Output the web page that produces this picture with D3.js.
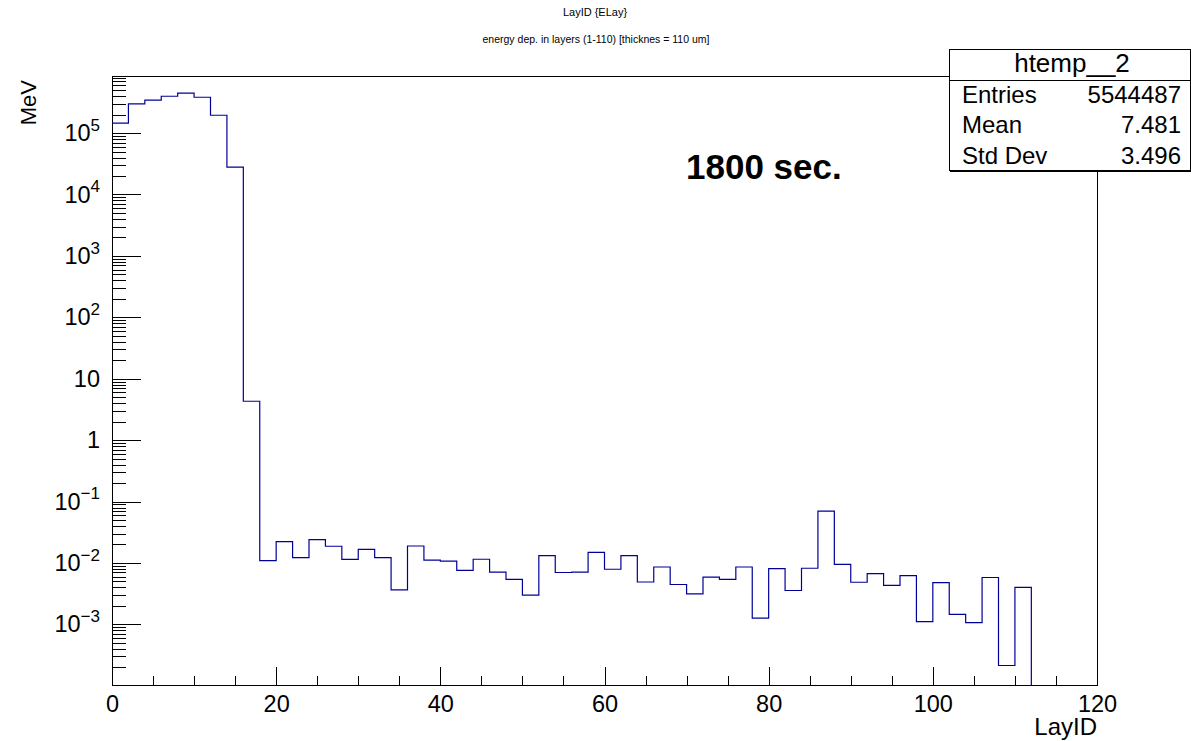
<!DOCTYPE html>
<html>
<head>
<meta charset="utf-8">
<script src="https://cdn.jsdelivr.net/npm/d3@7"></script>
<style>
  body { margin: 0; background: #fff; }
  svg { font-family: "Liberation Sans", Arial, Helvetica, sans-serif; }
  .axis path, .axis line { stroke: #000; shape-rendering: crispEdges; }
  .axis .domain { display: none; }
</style>
</head>
<body>
<div id="chart"></div>
<script>
// histogram: LayID, bin width 2, first edge at 0
var binStart = 0;
var binWidth = 2;
var binValues = [
  1.45e5, 3.0e5, 3.43e5, 3.98e5, 4.46e5, 3.83e5, 1.95e5, 2.8e4, 4.3, 0.0109,
  0.0223, 0.0122, 0.024, 0.0187, 0.0114, 0.0167, 0.0122, 0.00364, 0.0189, 0.0111,
  0.0107, 0.0076, 0.0115, 0.0071, 0.0054, 0.0030, 0.0132, 0.0070, 0.0071, 0.0149,
  0.0079, 0.0132, 0.0049, 0.0086, 0.00446, 0.00313, 0.0059, 0.0054, 0.0086, 0.00126,
  0.0081, 0.00356, 0.0082, 0.070, 0.0095, 0.00485, 0.0067, 0.0043, 0.0062, 0.00111,
  0.0048, 0.00145, 0.00107, 0.0058, 0.000214, 0.0040, 0, 0, 0, 0
];

var xTicks = [0, 20, 40, 60, 80, 100, 120];
var yTicks = [1e5, 1e4, 1e3, 1e2, 10, 1, 1e-1, 1e-2, 1e-3];
var yTickLabels = [['10', '5'], ['10', '4'], ['10', '3'], ['10', '2'], ['10', ''], ['1', ''],
  ['10', '\u22121'], ['10', '\u22122'], ['10', '\u22123']];

var statsTitle = 'htemp__2';
var statsRows = [['Entries', '5544487'], ['Mean', '7.481'], ['Std Dev', '3.496']];

var W = 1191, H = 741;
var margin = {top: 76, right: 94, bottom: 56, left: 112};
var width = W - margin.left - margin.right;
var height = H - margin.top - margin.bottom;

var x = d3.scaleLinear().domain([0, 120]).range([0, width]);
var y = d3.scaleLog().domain([1.03e-4, 8.5e5]).range([height, 0]);

var svg = d3.select('#chart').append('svg')
  .attr('width', W)
  .attr('height', H);

// titles
svg.append('text')
  .attr('x', 595).attr('y', 16)
  .attr('text-anchor', 'middle')
  .attr('font-size', 11)
  .text('LayID {ELay}');
svg.append('text')
  .attr('x', 596).attr('y', 43)
  .attr('text-anchor', 'middle')
  .attr('font-size', 10.5)
  .text('energy dep. in layers (1-110) [thicknes = 110 um]');

var g = svg.append('g')
  .attr('transform', 'translate(' + margin.left + ',' + margin.top + ')');

// frame
g.append('rect')
  .attr('x', 0).attr('y', 0)
  .attr('width', width).attr('height', height)
  .attr('fill', 'none')
  .attr('stroke', '#000')
  .attr('stroke-width', 1)
  .attr('shape-rendering', 'crispEdges');

// x axis: minor every 5, major every 20
var xMinor = d3.range(0, 121, 5).filter(function(d) { return d % 20 !== 0; });
g.append('g')
  .attr('class', 'axis')
  .attr('transform', 'translate(0,' + height + ')')
  .call(d3.axisBottom(x).tickValues(xMinor).tickSize(-9).tickFormat(''));
g.append('g')
  .attr('class', 'axis')
  .attr('transform', 'translate(0,' + height + ')')
  .call(d3.axisBottom(x).tickValues(xTicks).tickSize(-18).tickPadding(10))
  .selectAll('text')
  .attr('font-size', 23.5)
  .attr('fill', '#000');

// y axis: minor ticks 2..9 per decade
var yMinor = [];
for (var e = -4; e <= 5; e++) {
  for (var m = 2; m <= 9; m++) {
    var v = m * Math.pow(10, e);
    if (v >= y.domain()[0] && v <= y.domain()[1]) yMinor.push(v);
  }
}
g.append('g')
  .attr('class', 'axis')
  .call(d3.axisLeft(y).tickValues(yMinor).tickSize(-14).tickFormat(''));

var yAxis = g.append('g')
  .attr('class', 'axis')
  .call(d3.axisLeft(y).tickValues(yTicks).tickSize(-29).tickPadding(12).tickFormat(''));
yAxis.selectAll('.tick text').each(function(d, i) {
  var t = d3.select(this)
    .attr('font-size', 23.5)
    .attr('fill', '#000');
  var lab = yTickLabels[i];
  t.append('tspan').text(lab[0]);
  if (lab[1]) {
    t.append('tspan')
      .attr('font-size', 17)
      .attr('dy', '-0.6em')
      .text(lab[1]);
  }
});

// histogram outline, stops where the bins become empty
var last = binValues.length - 1;
while (last > 0 && binValues[last] <= 0) last--;
var pts = [];
binValues.slice(0, last + 1).forEach(function(v, i) {
  var lo = binStart + i * binWidth;
  pts.push([lo, v], [lo + binWidth, v]);
});
pts.push([binStart + (last + 1) * binWidth, y.domain()[0]]);

var line = d3.line()
  .x(function(d) { return x(d[0]); })
  .y(function(d) { return y(d[1]); });

g.append('path')
  .attr('d', line(pts))
  .attr('fill', 'none')
  .attr('stroke', '#000099')
  .attr('stroke-width', 1.2);

// axis titles
svg.append('text')
  .attr('x', margin.left + width).attr('y', 735)
  .attr('text-anchor', 'end')
  .attr('font-size', 24)
  .text('LayID');
svg.append('text')
  .attr('transform', 'translate(36,80) rotate(-90)')
  .attr('text-anchor', 'end')
  .attr('font-size', 22)
  .text('MeV');

// annotation
svg.append('text')
  .attr('x', 686).attr('y', 179)
  .attr('font-size', 35)
  .attr('font-weight', 'bold')
  .text('1800 sec.');

// stats box
var box = svg.append('g');
box.append('rect')
  .attr('x', 950).attr('y', 51)
  .attr('width', 241).attr('height', 121)
  .attr('fill', '#000');
box.append('rect')
  .attr('x', 949.5).attr('y', 49.5)
  .attr('width', 241).attr('height', 121)
  .attr('fill', '#fff')
  .attr('stroke', '#000');
box.append('line')
  .attr('x1', 949.5).attr('x2', 1191)
  .attr('y1', 80.5).attr('y2', 80.5)
  .attr('stroke', '#000');
box.append('text')
  .attr('x', 1072).attr('y', 72)
  .attr('text-anchor', 'middle')
  .attr('font-size', 26)
  .text(statsTitle);
statsRows.forEach(function(r, i) {
  var by = 103 + i * 30.3;
  box.append('text')
    .attr('x', 962).attr('y', by)
    .attr('font-size', 24)
    .text(r[0]);
  box.append('text')
    .attr('x', 1181).attr('y', by)
    .attr('text-anchor', 'end')
    .attr('font-size', 24)
    .text(r[1]);
});
</script>
</body>
</html>
